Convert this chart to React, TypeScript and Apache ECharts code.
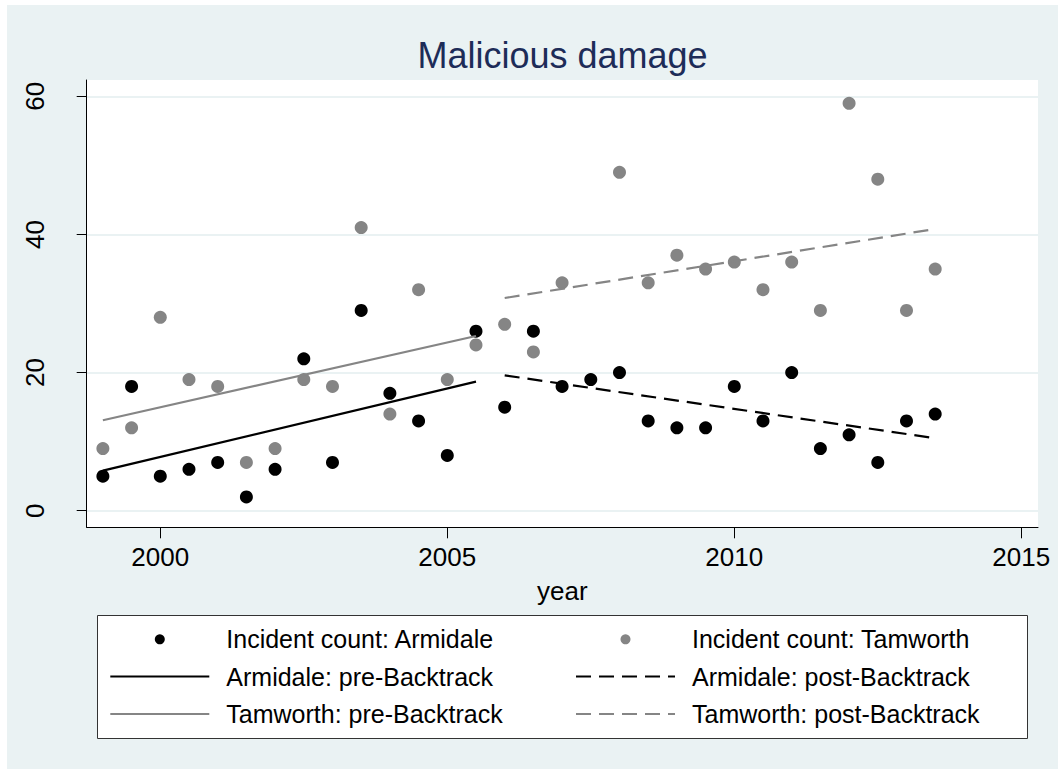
import React, { useEffect, useRef } from "react";
import * as echarts from "echarts";

const years = [1999, 1999.5, 2000, 2000.5, 2001, 2001.5, 2002, 2002.5, 2003, 2003.5, 2004, 2004.5, 2005, 2005.5, 2006, 2006.5, 2007, 2007.5, 2008, 2008.5, 2009, 2009.5, 2010, 2010.5, 2011, 2011.5, 2012, 2012.5, 2013, 2013.5];
const armidale = [5, 18, 5, 6, 7, 2, 6, 22, 7, 29, 17, 13, 8, 26, 15, 26, 18, 19, 20, 13, 12, 12, 18, 13, 20, 9, 11, 7, 13, 14];
const tamworth = [9, 12, 28, 19, 18, 7, 9, 19, 18, 41, 14, 32, 19, 24, 27, 23, 33, null, 49, 33, 37, 35, 36, 32, 36, 29, 59, 48, 29, 35];

const preYears = [1999, 2005.5];
const postYears = [2006, 2013.5];
const armidalePre = [5.8, 18.7];
const armidalePost = [19.6, 10.5];
const tamworthPre = [13.1, 25.3];
const tamworthPost = [30.8, 40.8];

const xTicks = [2000, 2005, 2010, 2015];
const yTicks = [0, 20, 40, 60];

const names = {
  aCount: "Incident count: Armidale",
  tCount: "Incident count: Tamworth",
  aPre: "Armidale: pre-Backtrack",
  aPost: "Armidale: post-Backtrack",
  tPre: "Tamworth: pre-Backtrack",
  tPost: "Tamworth: post-Backtrack",
};

const FONT = "'Liberation Sans', Arial, Helvetica, sans-serif";
const BLACK = "#000000";
const GREY = "#858585";
const BG = "#EAF2F3";

function pairs(xs: number[], ys: (number | null)[]) {
  const out: [number, number][] = [];
  xs.forEach((x, i) => {
    const y = ys[i];
    if (y !== null && y !== undefined) out.push([x, y]);
  });
  return out;
}

export default function App() {
  const ref = useRef<HTMLDivElement>(null);
  useEffect(() => {
    if (!ref.current) return;
    const chart = echarts.init(ref.current, undefined, { renderer: "svg" });
    const legendText = {
      fontSize: 25,
      color: "#000",
      fontFamily: FONT,
      lineHeight: 30,
      padding: [0, 0, 0, 12],
    };
    const lineItem = (n: string) => ({ name: n, itemStyle: { opacity: 0 } });
    const option: any = {
      animation: false,
      backgroundColor: BG,
      textStyle: { fontFamily: FONT },
      title: {
        text: "Malicious damage",
        left: 555.5,
        top: 32,
        textAlign: "center",
        padding: 0,
        textStyle: { fontSize: 36, fontWeight: "normal", color: "#1d2c58", fontFamily: FONT, lineHeight: 36 },
      },
      grid: {
        left: 79.7,
        top: 75,
        width: 951.3,
        height: 447.3,
        show: true,
        backgroundColor: "#ffffff",
        borderWidth: 0,
        containLabel: false,
      },
      xAxis: {
        type: "value",
        min: 1998.718,
        max: 2015.291,
        name: "year",
        nameLocation: "middle",
        nameGap: 51,
        nameTextStyle: { fontSize: 26, color: "#000", fontFamily: FONT, lineHeight: 26 },
        axisLine: { show: true, onZero: false, lineStyle: { color: "#000", width: 1 } },
        axisTick: { show: true, length: 11, customValues: xTicks, lineStyle: { color: "#000", width: 1 } },
        axisLabel: {
          customValues: xTicks,
          fontSize: 26,
          color: "#000",
          margin: 17,
          lineHeight: 26,
          fontFamily: FONT,
          formatter: (v: number) => String(v),
        },
        splitLine: { show: false },
      },
      yAxis: {
        type: "value",
        min: -2.4,
        max: 62.37,
        axisLine: { show: true, onZero: false, lineStyle: { color: "#000", width: 1 } },
        axisTick: { show: true, length: 10, customValues: yTicks, lineStyle: { color: "#000", width: 1 } },
        axisLabel: {
          customValues: yTicks,
          fontSize: 26,
          color: "#000",
          margin: 39,
          rotate: 90,
          lineHeight: 26,
          fontFamily: FONT,
          formatter: (v: number) => String(v),
        },
        splitLine: { show: true, lineStyle: { color: BG, width: 2 } },
      },
      legend: [
        {
          data: [names.aCount, lineItem(names.aPre), lineItem(names.tPre)],
          orient: "vertical",
          left: 102.3,
          top: 619.3,
          padding: 0,
          itemWidth: 99,
          itemHeight: 10,
          itemGap: 7.3,
          selectedMode: false,
          textStyle: legendText,
        },
        {
          data: [names.tCount, lineItem(names.aPost), lineItem(names.tPost)],
          orient: "vertical",
          left: 568,
          top: 619.3,
          padding: 0,
          itemWidth: 99,
          itemHeight: 10,
          itemGap: 7.3,
          selectedMode: false,
          textStyle: legendText,
        },
      ],
      graphic: [
        {
          type: "rect",
          z: 1,
          shape: { x: 90.5, y: 610.5, width: 930, height: 123 },
          style: { fill: "#ffffff", stroke: "#333333", lineWidth: 1 },
        },
      ],
      series: [
        {
          name: names.aCount,
          type: "scatter",
          symbol: "circle",
          symbolSize: 13,
          itemStyle: { color: BLACK, opacity: 1 },
          data: pairs(years, armidale),
        },
        {
          name: names.tCount,
          type: "scatter",
          symbol: "circle",
          symbolSize: 13,
          itemStyle: { color: GREY, opacity: 1 },
          data: pairs(years, tamworth),
        },
        {
          name: names.aPre,
          type: "line",
          symbol: "none",
          lineStyle: { color: BLACK, width: 2.2 },
          itemStyle: { color: BLACK },
          data: pairs(preYears, armidalePre),
        },
        {
          name: names.aPost,
          type: "line",
          symbol: "none",
          lineStyle: { color: BLACK, width: 2.2, type: [15, 8] },
          itemStyle: { color: BLACK },
          data: pairs(postYears, armidalePost),
        },
        {
          name: names.tPre,
          type: "line",
          symbol: "none",
          lineStyle: { color: GREY, width: 2.2 },
          itemStyle: { color: GREY },
          data: pairs(preYears, tamworthPre),
        },
        {
          name: names.tPost,
          type: "line",
          symbol: "none",
          lineStyle: { color: GREY, width: 2.2, type: [15, 8] },
          itemStyle: { color: GREY },
          data: pairs(postYears, tamworthPost),
        },
      ],
    };
    chart.setOption(option);
    return () => chart.dispose();
  }, []);
  return (
    <div style={{ position: "fixed", left: 0, top: 0, width: 1058, height: 769, background: "#ffffff" }}>
      <div ref={ref} style={{ position: "absolute", left: 7, top: 5, width: 1051, height: 764 }} />
    </div>
  );
}
